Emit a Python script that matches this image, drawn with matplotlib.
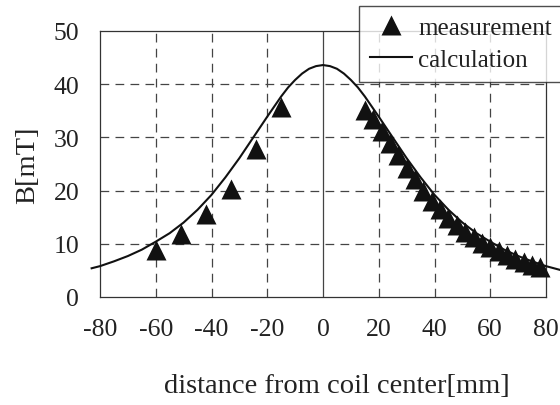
import matplotlib.pyplot as plt
import numpy as np

plt.rcParams['font.family'] = ['Liberation Serif', 'DejaVu Serif']

# measured field (triangles)
meas_x = [-60, -51, -42, -33, -24, -15,
          15, 18, 21, 24, 27, 30, 33, 36, 39, 42, 45,
          48, 51, 54, 57, 60, 63, 66, 69, 72, 75, 78]
meas_b = [8.9, 11.9, 15.6, 20.3, 27.8, 35.7,
          35.2, 33.4, 31.2, 28.9, 26.6, 24.3, 22.1, 20.0, 18.1, 16.5, 14.9,
          13.5, 12.3, 11.2, 10.2, 9.4, 8.6, 7.9, 7.2, 6.6, 6.1, 5.6]

# calculated field (solid line)
calc_x = [-83, -80, -75, -70, -65, -60, -55, -50, -45, -40, -35, -30, -25, -20,
          -15, -12.5, -10, -7.5, -5, -2.5, 0, 2.5, 5, 7.5, 10, 12.5, 15,
          20, 25, 30, 35, 40, 45, 50, 55, 60, 65, 70, 75, 80, 85]
calc_b = [5.4, 5.8, 6.7, 7.7, 8.9, 10.4, 12.0, 14.0, 16.4, 19.2, 22.5, 26.1, 30.0, 33.9,
          37.7, 39.4, 40.8, 42.0, 42.9, 43.4, 43.6, 43.4, 42.9, 42.0, 40.8, 39.4, 37.7,
          33.9, 30.0, 26.1, 22.5, 19.2, 16.4, 14.0, 12.0, 10.4, 8.9, 7.7, 6.7, 5.8, 5.1]

x_ticks = [-80, -60, -40, -20, 0, 20, 40, 60, 80]
y_ticks = [0, 10, 20, 30, 40, 50]

FS = 18.5      # tick labels
FS_LEG = 18    # legend
FS_LAB = 20.5  # axis titles

fig = plt.figure(figsize=(5.6, 4.06), dpi=100)
ax = fig.add_axes([100/560, 1-298/406, 446/560, 266/406])

# grid
for gx in x_ticks[1:-1]:
    if gx == 0:
        ax.axvline(0, color='#444444', lw=0.9, zorder=1)
    else:
        ax.axvline(gx, color='#444444', lw=0.9, ls=(0, (7, 5)), zorder=1)
for gy in y_ticks[1:-1]:
    ax.axhline(gy, color='#444444', lw=0.9, ls=(0, (7, 5)), zorder=1)

ax.plot(calc_x, calc_b, color='#111111', lw=1.5, label='calculation', clip_on=False, zorder=3)
ax.plot(meas_x, meas_b, ls='none', marker='^', ms=14.5, color='#111111', mec='none',
        label='measurement', clip_on=False, zorder=4)

ax.set_xlim(-80, 80)
ax.set_ylim(0, 50)
ax.set_xticks(x_ticks)
ax.set_xticklabels([str(v) for v in x_ticks])
ax.set_yticks(y_ticks)
ax.tick_params(length=0, labelsize=FS, colors='#222222')
ax.tick_params(axis='x', pad=15)
ax.tick_params(axis='y', pad=15)
for s in ax.spines.values():
    s.set_color('#333333')
    s.set_linewidth(0.9)

ax.set_xlabel('distance from coil center[mm]', fontsize=FS_LAB, color='#222222')
ax.xaxis.label.set_va('center')
ax.xaxis.set_label_coords((337 - 100) / 446, (298 - 387) / 266)
ax.set_ylabel('B[mT]', fontsize=FS_LAB, color='#222222')
ax.yaxis.label.set_va('center')
ax.yaxis.set_label_coords((28 - 100) / 446, 0.5)

h, l = ax.get_legend_handles_labels()
leg = fig.legend(h[::-1], l[::-1], loc='upper left', bbox_to_anchor=(359/560, 1 - 7/406),
                 fontsize=FS_LEG, frameon=True, fancybox=False, shadow=False,
                 borderpad=0.42, handlelength=1.7, handletextpad=0.25,
                 labelspacing=0.38, borderaxespad=0, numpoints=1)
leg.get_frame().set_edgecolor('#222222')
leg.get_frame().set_linewidth(1.0)
for t in leg.get_texts():
    t.set_color('#222222')

fig.savefig('out.png', dpi=100)
